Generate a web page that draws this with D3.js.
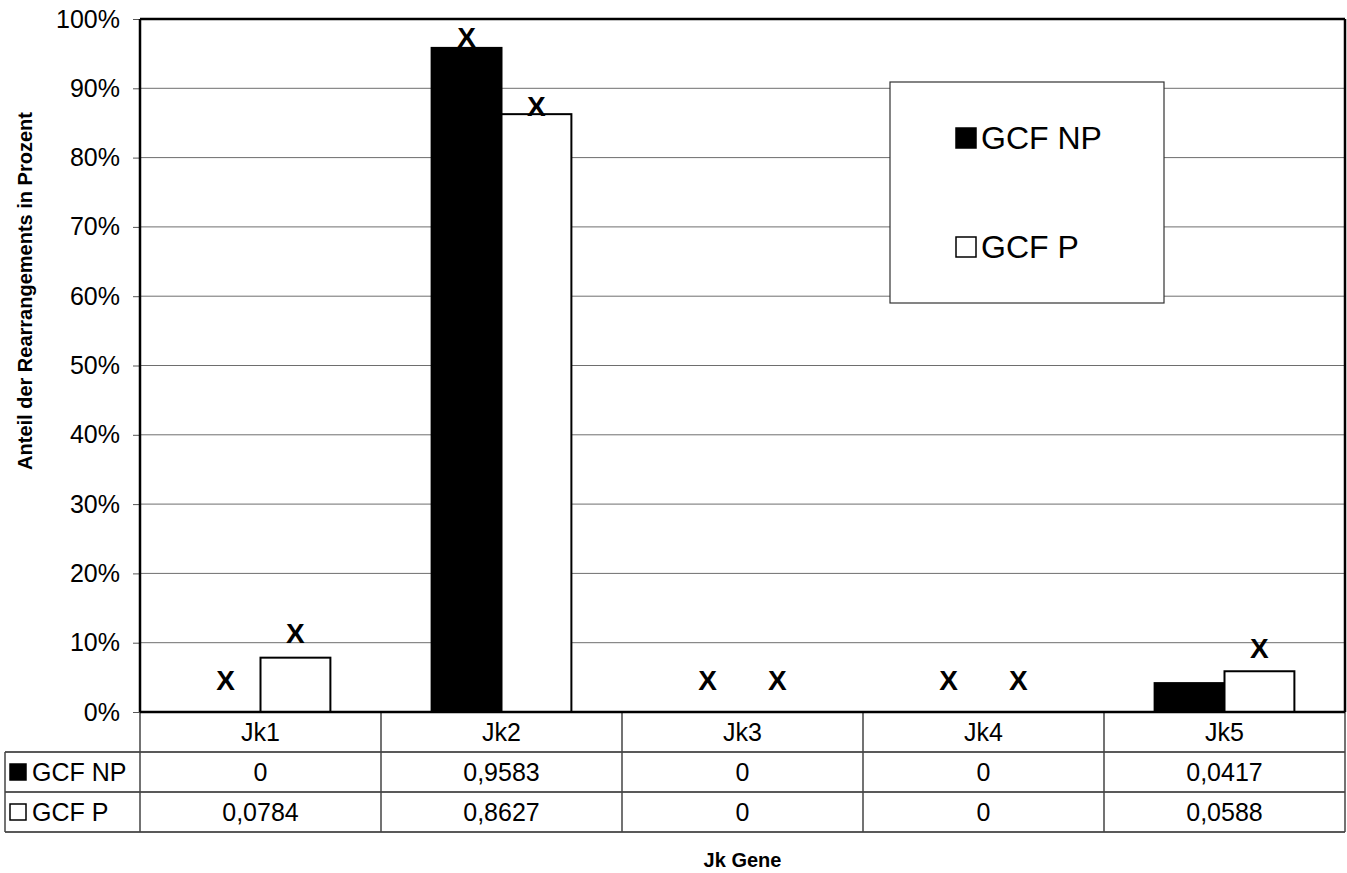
<!DOCTYPE html>
<html>
<head>
<meta charset="utf-8">
<script src="https://cdn.jsdelivr.net/npm/d3@7"></script>
<style>
body { margin: 0; background: #fff; }
text { font-family: "Liberation Sans", Arial, sans-serif; }
</style>
</head>
<body>
<div id="container"></div>
<script>
var categories = ["Jk1", "Jk2", "Jk3", "Jk4", "Jk5"];
var seriesNames = ["GCF NP", "GCF P"];
var valuesNP = [0, 0.9583, 0, 0, 0.0417];
var valuesP = [0.0784, 0.8627, 0, 0, 0.0588];
var yTicks = [0, 0.1, 0.2, 0.3, 0.4, 0.5, 0.6, 0.7, 0.8, 0.9, 1];
// "X" markers above the bars, height (null = no marker)
var markerNP = [0.046, 0.974, 0.046, 0.046, null];
var markerP = [0.113, 0.874, 0.046, 0.046, 0.091];

var seriesValues = [valuesNP, valuesP];
var seriesMarkers = [markerNP, markerP];
var seriesFill = ["#000", "#fff"];

var createChart = function () {
    var W = 1347, H = 873;
    var left = 140, right = 1345, top = 19, bottom = 712;
    var rowH = 40, tableLeft = 5;

    var svg = d3.select("#container")
        .append("svg")
        .attr("width", W)
        .attr("height", H);

    var x = d3.scaleBand().domain(categories).range([left, right])
        .paddingInner(0.42).paddingOuter(0.21);
    var xs = d3.scaleBand().domain(seriesNames).range([0, x.bandwidth()]);
    var y = d3.scaleLinear().domain([0, 1]).range([bottom, top]);

    // gridlines
    svg.append("g")
        .selectAll("line")
        .data(yTicks.slice(1, -1))
        .join("line")
        .attr("x1", left).attr("x2", right)
        .attr("y1", function (d) { return y(d); })
        .attr("y2", function (d) { return y(d); })
        .attr("stroke", "#6e6e6e")
        .attr("stroke-width", 1);

    // y axis
    var yAxis = svg.append("g")
        .attr("transform", "translate(" + left + ",0)")
        .call(d3.axisLeft(y).tickValues(yTicks).tickFormat(d3.format(".0%")).tickSize(7).tickPadding(13));
    yAxis.select(".domain").remove();
    yAxis.selectAll(".tick line").attr("stroke", "#555");
    yAxis.selectAll(".tick text")
        .attr("fill", "#000")
        .style("font-size", "25px")
        .style("font-family", "Liberation Sans, Arial, sans-serif");

    // bars
    seriesNames.forEach(function (s, i) {
        svg.append("g")
            .selectAll("rect")
            .data(seriesValues[i])
            .join("rect")
            .attr("x", function (d, j) { return x(categories[j]) + xs(s); })
            .attr("y", function (d) { return y(d); })
            .attr("width", xs.bandwidth())
            .attr("height", function (d) { return y(0) - y(d); })
            .attr("fill", seriesFill[i])
            .attr("stroke", function (d) { return d > 0 ? "#000" : "none"; })
            .attr("stroke-width", 2);
    });

    // frame
    svg.append("line").attr("x1", left).attr("x2", right).attr("y1", top).attr("y2", top)
        .attr("stroke", "#000").attr("stroke-width", 2.5);
    svg.append("line").attr("x1", left).attr("x2", left).attr("y1", top).attr("y2", bottom)
        .attr("stroke", "#000").attr("stroke-width", 2.5);
    svg.append("line").attr("x1", right).attr("x2", right).attr("y1", top).attr("y2", bottom)
        .attr("stroke", "#000").attr("stroke-width", 2.5);

    // markers
    seriesNames.forEach(function (s, i) {
        svg.append("g")
            .selectAll("text")
            .data(seriesMarkers[i].map(function (m, j) { return {m: m, c: categories[j]}; })
                .filter(function (d) { return d.m !== null; }))
            .join("text")
            .attr("x", function (d) { return x(d.c) + xs(s) + xs.bandwidth() / 2; })
            .attr("y", function (d) { return y(d.m); })
            .attr("text-anchor", "middle")
            .attr("dominant-baseline", "central")
            .style("font-size", "28px")
            .style("font-weight", "bold")
            .text("X");
    });

    // legend
    var lg = svg.append("g");
    lg.append("rect")
        .attr("x", 890).attr("y", 82).attr("width", 274).attr("height", 221)
        .attr("fill", "#fff").attr("stroke", "#333").attr("stroke-width", 1.2);
    seriesNames.forEach(function (s, i) {
        var cy = 138 + i * 109;
        lg.append("rect")
            .attr("x", 956).attr("y", cy - 10).attr("width", 20).attr("height", 20)
            .attr("fill", seriesFill[i]).attr("stroke", "#000").attr("stroke-width", 1.5);
        lg.append("text")
            .attr("x", 981).attr("y", cy)
            .attr("dominant-baseline", "central")
            .style("font-size", "32px")
            .text(s);
    });

    // data table
    var tb = svg.append("g");
    var step = x.step();
    var bounds = d3.range(categories.length + 1).map(function (i) { return left + i * step; });
    [bottom + rowH, bottom + 2 * rowH, bottom + 3 * rowH].forEach(function (yy) {
        tb.append("line").attr("x1", tableLeft).attr("x2", right).attr("y1", yy).attr("y2", yy)
            .attr("stroke", "#222").attr("stroke-width", 1.5);
    });
    bounds.forEach(function (bx) {
        tb.append("line").attr("x1", bx).attr("x2", bx).attr("y1", bottom).attr("y2", bottom + 3 * rowH)
            .attr("stroke", "#444").attr("stroke-width", 1.5);
    });
    tb.append("line").attr("x1", tableLeft).attr("x2", tableLeft)
        .attr("y1", bottom + rowH).attr("y2", bottom + 3 * rowH)
        .attr("stroke", "#444").attr("stroke-width", 1.5);

    tb.selectAll("text.cat")
        .data(categories)
        .join("text")
        .attr("class", "cat")
        .attr("x", function (d) { return x(d) + x.bandwidth() / 2; })
        .attr("y", bottom + rowH / 2)
        .attr("text-anchor", "middle")
        .attr("dominant-baseline", "central")
        .style("font-size", "25px")
        .text(function (d) { return d; });

    seriesNames.forEach(function (s, i) {
        var cy = bottom + rowH * (i + 1.5);
        tb.append("rect")
            .attr("x", 10).attr("y", cy - 8).attr("width", 16).attr("height", 16)
            .attr("fill", seriesFill[i]).attr("stroke", "#000").attr("stroke-width", 1.5);
        tb.append("text")
            .attr("x", 32).attr("y", cy)
            .attr("dominant-baseline", "central")
            .style("font-size", "25px")
            .text(s);
        tb.append("g").selectAll("text")
            .data(seriesValues[i])
            .join("text")
            .attr("x", function (d, j) { return x(categories[j]) + x.bandwidth() / 2; })
            .attr("y", cy)
            .attr("text-anchor", "middle")
            .attr("dominant-baseline", "central")
            .style("font-size", "25px")
            .text(function (d) { return String(d).replace(".", ","); });
    });

    // 0% line
    svg.append("line").attr("x1", left).attr("x2", right).attr("y1", bottom).attr("y2", bottom)
        .attr("stroke", "#000").attr("stroke-width", 2.5);

    // axis titles
    svg.append("text")
        .attr("transform", "translate(25,291) rotate(-90)")
        .attr("text-anchor", "middle")
        .attr("dominant-baseline", "central")
        .style("font-size", "20px")
        .style("font-weight", "bold")
        .text("Anteil der Rearrangements in Prozent");
    svg.append("text")
        .attr("x", (left + right) / 2)
        .attr("y", 860)
        .attr("text-anchor", "middle")
        .attr("dominant-baseline", "central")
        .style("font-size", "20px")
        .style("font-weight", "bold")
        .text("Jk Gene");
};

window.onload = createChart;
</script>
</body>
</html>
